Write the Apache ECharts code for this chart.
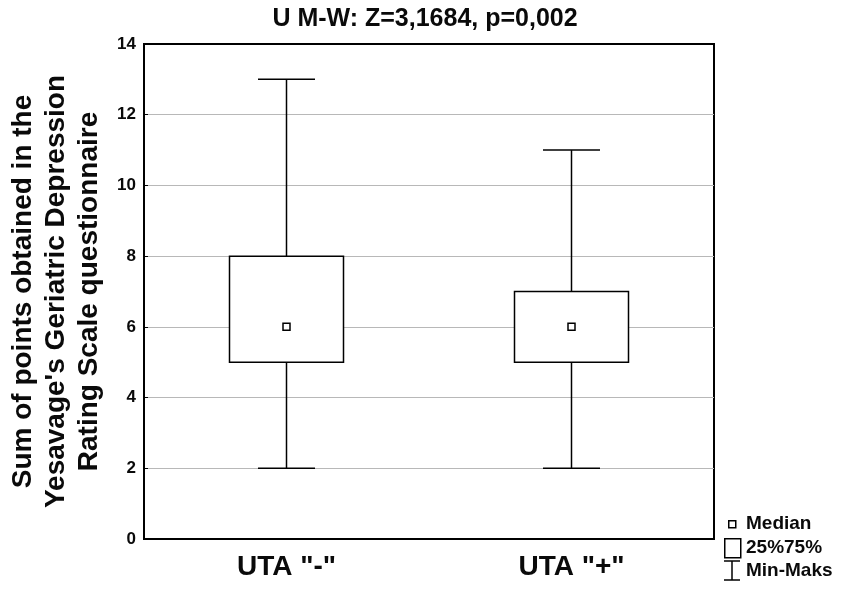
<!DOCTYPE html>
<html>
<head>
<meta charset="utf-8">
<script src="https://cdn.jsdelivr.net/npm/echarts@6/dist/echarts.min.js"></script>
<style>
  html, body { margin: 0; padding: 0; background: #fff; }
  #main { width: 851px; height: 594px; }
</style>
</head>
<body>
<div id="main"></div>
<script>
// box plot values
var categories = ['UTA "-"', 'UTA "+"'];
var minVals = [2, 2];
var q1Vals = [5, 5];
var medianVals = [6, 6];
var q3Vals = [8, 7];
var maxVals = [13, 11];
var yMin = 0, yMax = 14, yStep = 2;

var boxData = categories.map(function (c, i) {
    return [i, minVals[i], q1Vals[i], medianVals[i], q3Vals[i], maxVals[i]];
});

var FONT = 'Liberation Sans, Arial, sans-serif';

var chart = echarts.init(document.getElementById('main'));

function renderBox(params, api) {
    var i = api.value(0);
    var pMin = api.coord([i, api.value(1)]);
    var pQ1 = api.coord([i, api.value(2)]);
    var pMed = api.coord([i, api.value(3)]);
    var pQ3 = api.coord([i, api.value(4)]);
    var pMax = api.coord([i, api.value(5)]);
    var band = api.size([1, 0])[0];
    var boxW = band * 0.4;
    var capW = band * 0.2;
    var x = pMed[0];
    var line = { stroke: '#000', lineWidth: 1.5 };
    return {
        type: 'group',
        children: [
            { type: 'line', shape: { x1: x, y1: pMax[1], x2: x, y2: pQ3[1] }, style: line },
            { type: 'line', shape: { x1: x, y1: pQ1[1], x2: x, y2: pMin[1] }, style: line },
            { type: 'line', shape: { x1: x - capW / 2, y1: pMax[1], x2: x + capW / 2, y2: pMax[1] }, style: line },
            { type: 'line', shape: { x1: x - capW / 2, y1: pMin[1], x2: x + capW / 2, y2: pMin[1] }, style: line },
            { type: 'rect', shape: { x: x - boxW / 2, y: pQ3[1], width: boxW, height: pQ1[1] - pQ3[1] },
              style: { fill: '#fff', stroke: '#000', lineWidth: 1.5 } },
            { type: 'rect', shape: { x: x - 3.5, y: pMed[1] - 3.5, width: 7, height: 7 },
              style: { fill: '#fff', stroke: '#000', lineWidth: 1.5 } }
        ]
    };
}

chart.setOption({
    animation: false,
    title: {
        text: 'U M-W: Z=3,1684, p=0,002',
        left: 420,
        textAlign: 'center',
        top: 2,
        textStyle: { fontFamily: FONT, fontSize: 25, fontWeight: 'bold', color: '#0a0a0a' }
    },
    grid: {
        left: 144, right: 137, top: 44, bottom: 55,
        outerBoundsMode: 'none',
        show: true, borderColor: '#000', borderWidth: 2, backgroundColor: 'transparent'
    },
    xAxis: [{
        type: 'category',
        data: categories,
        position: 'bottom',
        axisLine: { lineStyle: { color: '#000', width: 2 } },
        axisTick: { inside: true, length: 5, alignWithLabel: true, interval: 0, lineStyle: { color: '#000', width: 1.5 } },
        axisLabel: { margin: 14, fontFamily: FONT, fontSize: 28, fontWeight: 'bold', color: '#0a0a0a' },
        splitLine: { show: false }
    }, {
        type: 'category',
        data: categories,
        position: 'top',
        axisLine: { lineStyle: { color: '#000', width: 2 } },
        axisTick: { inside: true, length: 5, alignWithLabel: true, interval: 0, lineStyle: { color: '#000', width: 1.5 } },
        axisLabel: { show: false },
        splitLine: { show: false }
    }],
    yAxis: {
        type: 'value',
        min: yMin, max: yMax, interval: yStep,
        name: "Sum of points obtained in the\nYesavage's Geriatric Depression\nRating Scale questionnaire",
        nameLocation: 'middle',
        nameGap: 37,
        nameTextStyle: { fontFamily: FONT, fontSize: 28, fontWeight: 'bold', color: '#0a0a0a', lineHeight: 33 },
        axisLine: { show: true, lineStyle: { color: '#000', width: 2 } },
        axisTick: { show: true, inside: true, length: 4, lineStyle: { color: '#000' } },
        axisLabel: { margin: 8, fontFamily: FONT, fontSize: 17, fontWeight: 'bold', color: '#0a0a0a' },
        splitLine: { show: true, lineStyle: { color: '#b8b8b8', width: 1 } }
    },
    series: [{
        type: 'custom',
        renderItem: renderBox,
        encode: { x: 0, y: [1, 2, 3, 4, 5] },
        data: boxData,
        z: 5
    }],
    graphic: [
        { type: 'rect', left: 728, top: 520, shape: { width: 7, height: 7 },
          style: { fill: '#fff', stroke: '#000', lineWidth: 1.5 } },
        { type: 'text', left: 746, top: 514, style: { text: 'Median', font: 'bold 19px ' + FONT, fill: '#0a0a0a' } },
        { type: 'rect', left: 724, top: 538, shape: { width: 16, height: 19 },
          style: { fill: '#fff', stroke: '#000', lineWidth: 1.5 } },
        { type: 'text', left: 746, top: 538, style: { text: '25%75%', font: 'bold 19px ' + FONT, fill: '#0a0a0a' } },
        { type: 'line', shape: { x1: 732, y1: 561, x2: 732, y2: 580 }, style: { stroke: '#000', lineWidth: 1.5 } },
        { type: 'line', shape: { x1: 724, y1: 561, x2: 740, y2: 561 }, style: { stroke: '#000', lineWidth: 1.5 } },
        { type: 'line', shape: { x1: 724, y1: 580, x2: 740, y2: 580 }, style: { stroke: '#000', lineWidth: 1.5 } },
        { type: 'text', left: 746, top: 561, style: { text: 'Min-Maks', font: 'bold 19px ' + FONT, fill: '#0a0a0a' } }
    ]
});
</script>
</body>
</html>
